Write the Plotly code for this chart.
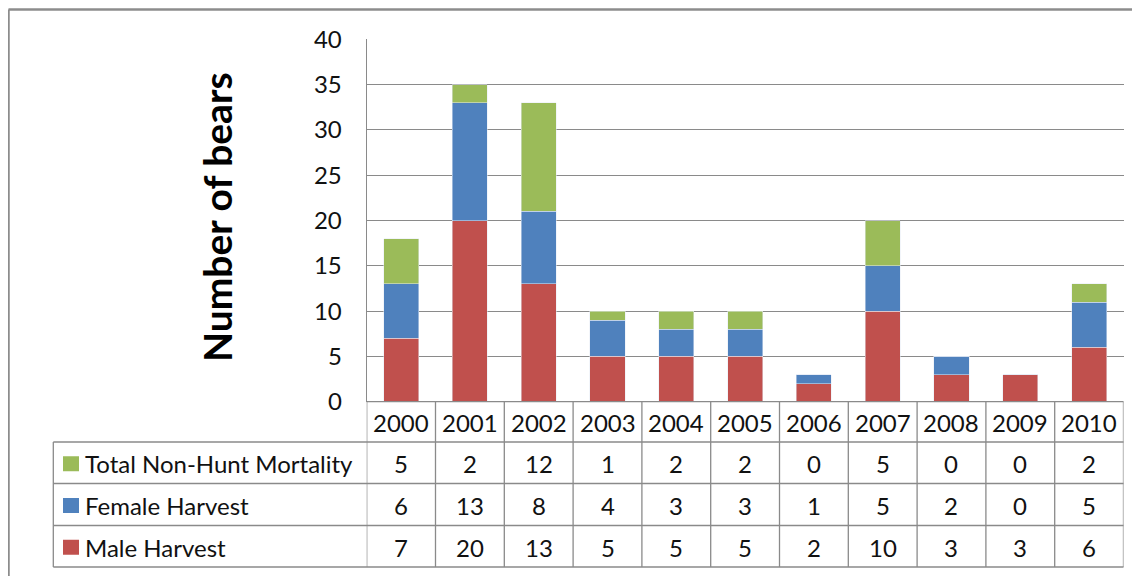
import plotly.graph_objects as go

years = ["2000", "2001", "2002", "2003", "2004", "2005", "2006", "2007", "2008", "2009", "2010"]
non_hunt = [5, 2, 12, 1, 2, 2, 0, 5, 0, 0, 2]
female = [6, 13, 8, 4, 3, 3, 1, 5, 2, 0, 5]
male = [7, 20, 13, 5, 5, 5, 2, 10, 3, 3, 6]

# table rows, top to bottom
rows = [
    ("Total Non-Hunt Mortality", non_hunt, "#9BBB59"),
    ("Female Harvest", female, "#4F81BD"),
    ("Male Harvest", male, "#C0504D"),
]

# page is offset by the 8px body margin, so work in page pixels and convert
OFF = 8
W, H = 1140 - OFF, 576 - OFF
FONT = "Lato"
GRID = "#8a8a8a"


def px_x(v):
    return (v - OFF) / W


def px_y(v):
    return 1 - (v - OFF) / H


plot_left, plot_right = 366.7, 1123.5
plot_top, plot_bottom = 39.3, 401.7
row_edges = [401.7, 442, 483.5, 525.5, 567]
table_left = 53.3

fig = go.Figure()
fig.add_trace(go.Bar(x=years, y=male, name="Male Harvest", marker_color="#C0504D"))
fig.add_trace(go.Bar(x=years, y=female, name="Female Harvest", marker_color="#4F81BD"))
fig.add_trace(go.Bar(x=years, y=non_hunt, name="Total Non-Hunt Mortality", marker_color="#9BBB59"))

shapes = []
annotations = []

# outer chart border (top and left visible)
shapes.append(dict(type="line", xref="paper", yref="paper", x0=px_x(8.5), x1=1.05,
                   y0=px_y(9.5), y1=px_y(9.5), line=dict(color="#8c8c8c", width=2.5)))
shapes.append(dict(type="line", xref="paper", yref="paper", x0=px_x(8.5), x1=px_x(8.5),
                   y0=px_y(9.5), y1=-0.05, line=dict(color="#8c8c8c", width=2.5)))

# table vertical lines at category boundaries
for i in range(len(years) + 1):
    shapes.append(dict(type="line", xref="x", yref="paper", x0=i - 0.5, x1=i - 0.5,
                       y0=px_y(row_edges[-1]), y1=px_y(row_edges[0]),
                       line=dict(color=GRID, width=1.3)))
shapes.append(dict(type="line", xref="paper", yref="paper", x0=px_x(table_left), x1=px_x(table_left),
                   y0=px_y(row_edges[-1]), y1=px_y(row_edges[1]), line=dict(color=GRID, width=1.3)))
# horizontal lines
for k, e in enumerate(row_edges):
    x0 = px_x(plot_left) if k == 0 else px_x(table_left)
    shapes.append(dict(type="line", xref="paper", yref="paper", x0=x0, x1=px_x(plot_right),
                       y0=px_y(e), y1=px_y(e), line=dict(color=GRID, width=1.3)))

txt = dict(family=FONT, size=24, color="#111")

# year header
for i, yr in enumerate(years):
    annotations.append(dict(x=i, xref="x", y=px_y((row_edges[0] + row_edges[1]) / 2 + 1), yref="paper",
                            text=yr, showarrow=False, xanchor="center", yanchor="middle", font=txt))

# rows
for r, (label, vals, color) in enumerate(rows):
    cy = (row_edges[r + 1] + row_edges[r + 2]) / 2 + 1
    shapes.append(dict(type="rect", xref="paper", yref="paper", x0=px_x(63), x1=px_x(79),
                       y0=px_y(cy - 7.5), y1=px_y(cy + 7.5), fillcolor=color, line=dict(width=0)))
    annotations.append(dict(x=px_x(83), xref="paper", y=px_y(cy), yref="paper", text=label,
                            xanchor="left", yanchor="middle", showarrow=False, font=txt))
    for i, v in enumerate(vals):
        annotations.append(dict(x=i, xref="x", y=px_y(cy), yref="paper", text=str(v),
                                xanchor="center", yanchor="middle", showarrow=False, font=txt))

# y axis title
annotations.append(dict(x=px_x(217), xref="paper", y=px_y(217), yref="paper", text="<b>Number of bears</b>",
                        xanchor="center", yanchor="middle", textangle=-90, showarrow=False,
                        font=dict(family=FONT, size=39, color="#000")))

fig.update_layout(
    width=W, height=H,
    margin=dict(l=0, r=0, t=0, b=0, pad=0),
    paper_bgcolor="white", plot_bgcolor="white",
    barmode="stack", bargap=0.49,
    showlegend=False,
    shapes=shapes, annotations=annotations,
    xaxis=dict(domain=[px_x(plot_left), px_x(plot_right)], type="category", range=[-0.5, 10.5],
               automargin=False, showticklabels=False, showgrid=False, zeroline=False, showline=False),
    yaxis=dict(domain=[px_y(plot_bottom), px_y(plot_top)], range=[0, 40], dtick=5, automargin=False,
               showgrid=True, gridcolor=GRID, gridwidth=1.2, zeroline=False,
               showline=True, linecolor=GRID, linewidth=1.2,
               ticks="", ticklabelstandoff=19, tickfont=txt),
)

fig.write_html("out.html")
